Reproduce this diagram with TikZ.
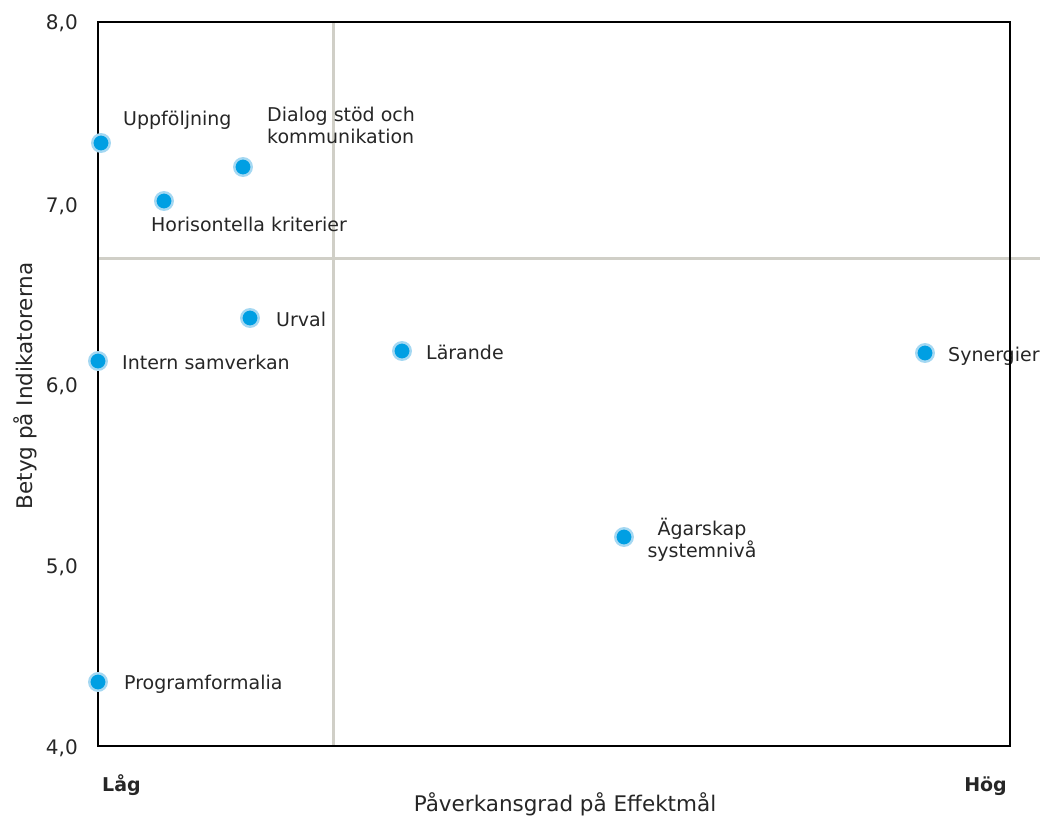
\documentclass[tikz,border=0pt]{standalone}
\usepackage{fontspec}
\setmainfont{DejaVu Sans}
\definecolor{dotblue}{RGB}{0,159,227}
\definecolor{halo}{RGB}{165,216,242}
\definecolor{gridgrey}{RGB}{208,207,199}
\definecolor{txt}{RGB}{38,38,38}
\begin{document}
\begin{tikzpicture}[x=1pt,y=-1pt,
  dot/.style={circle,fill=dotblue,draw=halo,line width=2.4pt,inner sep=0pt,minimum size=17.5pt},
  lbl/.style={anchor=base west,inner sep=0pt,text=txt,font=\fontsize{19}{22}\selectfont},
  tick/.style={anchor=base east,inner sep=0pt,text=txt,font=\fontsize{20}{22}\selectfont},
  axtitle/.style={inner sep=0pt,text=txt,font=\fontsize{21.5}{26}\selectfont},
  endlbl/.style={anchor=base west,inner sep=0pt,text=txt,font=\bfseries\fontsize{19}{22}\selectfont},
  grid/.style={draw=gridgrey,line width=3pt},
  frame/.style={draw=black,line width=2pt}]
\useasboundingbox (0,0) rectangle (1040,816);
% quadrant lines
\coordinate (vt) at (333,22);
\coordinate (vb) at (333,746);
\coordinate (hl) at (98,258);
\coordinate (hr) at (1040,258);
\draw[grid] (vt) -- (vb);
\draw[grid] (hl) -- (hr);
% labels
\node[lbl] (tUpp) at (123,125) {Uppföljning};
\node[lbl,align=left] (tDia) at (267,143) {Dialog stöd och\\kommunikation};
\node[lbl] (tHor) at (151,231.5) {Horisontella kriterier};
\node[lbl] (tUrv) at (276,326.5) {Urval};
\node[lbl] (tInt) at (122,369.3) {Intern samverkan};
\node[lbl] (tLar) at (426,359.3) {Lärande};
\node[lbl] (tSyn) at (948,361) {Synergier};
\node[inner sep=0pt,text=txt,font=\fontsize{19}{22}\selectfont,align=center,anchor=base] (tAga) at (702,557) {Ägarskap\\systemnivå};
\node[lbl] (tPro) at (124,689.3) {Programformalia};
% ticks
\node[tick] (y8) at (78,30) {8,0};
\node[tick] (y7) at (78,212.3) {7,0};
\node[tick] (y6) at (78,392.7) {6,0};
\node[tick] (y5) at (78,573.5) {5,0};
\node[tick] (y4) at (78,754.3) {4,0};
% axis titles
\node[axtitle,rotate=90] (ytitle) at (25,386) {Betyg på Indikatorerna};
\node[axtitle,anchor=base] (xtitle) at (565,811) {Påverkansgrad på Effektmål};
\node[endlbl] (low) at (102,791.7) {Låg};
\node[endlbl,anchor=base east] (high) at (1007,791.7) {Hög};
% frame
\coordinate (fa) at (98,22);
\coordinate (fb) at (1010,746);
\draw[frame] (fa) rectangle (fb);
% dots
\node[dot] (pUpp) at (101,143) {};
\node[dot] (pHor) at (164,201) {};
\node[dot] (pDia) at (243,167) {};
\node[dot] (pUrv) at (250,318) {};
\node[dot] (pInt) at (98,361) {};
\node[dot] (pLar) at (402,351) {};
\node[dot] (pAga) at (624,537) {};
\node[dot] (pSyn) at (925,353) {};
\node[dot] (pPro) at (98,682) {};
\end{tikzpicture}
\end{document}
